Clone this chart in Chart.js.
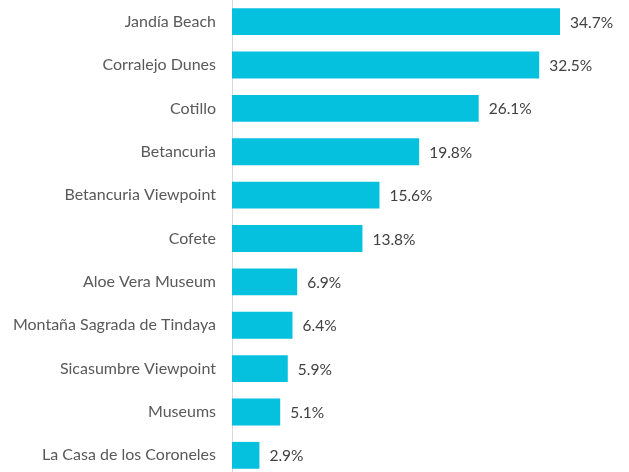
<!DOCTYPE html>
<html>
<head>
<meta charset="utf-8">
<script src="https://cdn.jsdelivr.net/npm/chart.js@4/dist/chart.umd.min.js"></script>
<style>
html,body{margin:0;padding:0;background:#fff;overflow:hidden;}
#wrap{position:relative;width:629px;height:477px;}
</style>
</head>
<body>
<div id="wrap"><canvas id="c"></canvas></div>
<script>
const categories = ["Jandía Beach","Corralejo Dunes","Cotillo","Betancuria","Betancuria Viewpoint","Cofete","Aloe Vera Museum","Montaña Sagrada de Tindaya","Sicasumbre Viewpoint","Museums","La Casa de los Coroneles"];
const values = [34.7,32.5,26.1,19.8,15.6,13.8,6.9,6.4,5.9,5.1,2.9];

const labelPlugin = {
  id:'valueLabels',
  afterDatasetsDraw(chart){
    const ctx = chart.ctx;
    const meta = chart.getDatasetMeta(0);
    ctx.save();
    ctx.font = '15.5px Lato';
    ctx.fillStyle = '#404040';
    ctx.textAlign = 'left';
    ctx.textBaseline = 'middle';
    meta.data.forEach((bar,i)=>{
      ctx.fillText(values[i].toFixed(1)+'%', bar.x + 10, bar.y + 1);
    });
    ctx.restore();
  }
};

new Chart(document.getElementById('c'),{
  type:'bar',
  data:{labels:categories,datasets:[{data:values,backgroundColor:'#06C1DE',barPercentage:0.62,categoryPercentage:1}]},
  options:{
    indexAxis:'y',
    responsive:true,
    maintainAspectRatio:false,
    animation:false,
    layout:{padding:0},
    plugins:{legend:{display:false},tooltip:{enabled:false}},
    scales:{
      x:{display:false,min:0,max:42},
      y:{
        grid:{display:false,drawTicks:false},
        border:{display:true,color:'#d9d9d9',width:1},
        ticks:{color:'#595959',font:{family:'Lato',size:16},padding:16},
        afterFit(scale){scale.width=232;scale.paddingTop=0;scale.paddingBottom=0;}
      }
    }
  },
  plugins:[labelPlugin]
});
</script>
</body>
</html>
